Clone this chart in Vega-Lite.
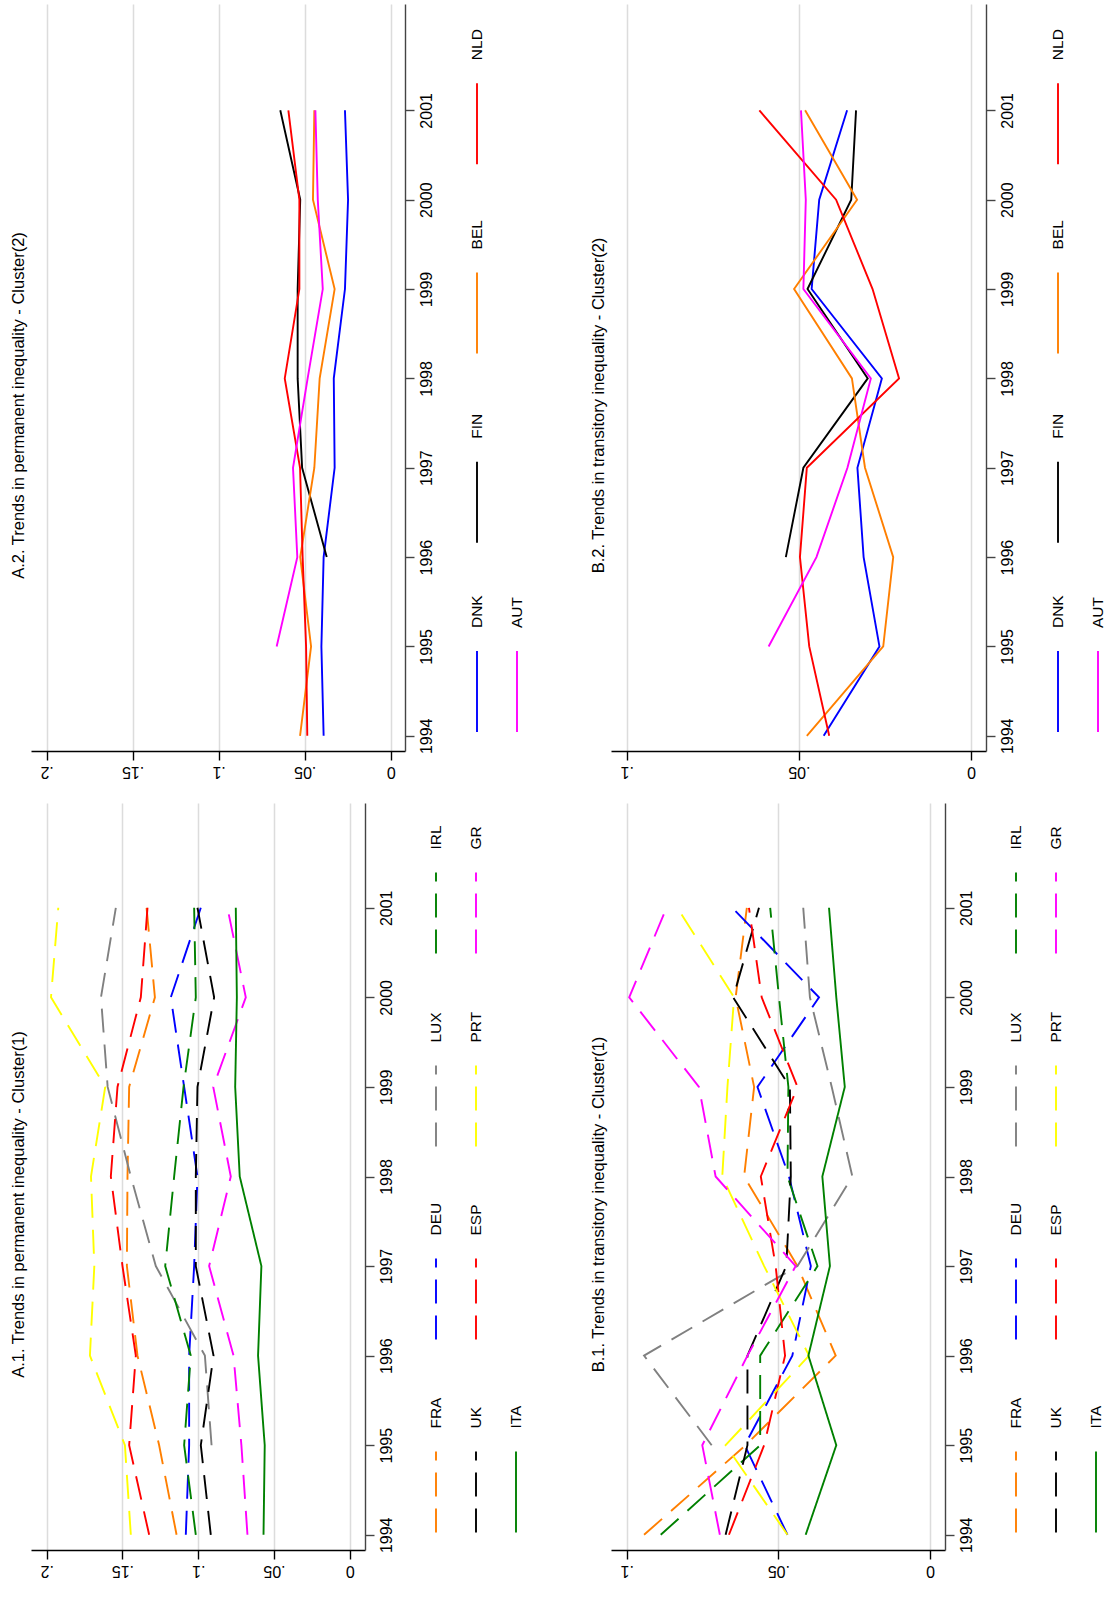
{
  "$schema": "https://vega.github.io/schema/vega-lite/v6.json",
  "background": "white",
  "padding": {"left": 10, "top": 4, "right": 0, "bottom": 0},
  "config": {
    "view": {"stroke": null},
    "font": "Liberation Sans",
    "axis": {"labelFont": "Liberation Sans", "labelFontSize": 16, "labelColor": "black", "domainColor": "black", "tickColor": "black", "tickSize": 9, "domainWidth": 1.4, "tickWidth": 1.4, "gridColor": "#dcdcdc", "gridWidth": 1.5, "title": null, "labelFlush": false, "labelOverlap": false, "labelBound": false},
    "title": {"font": "Liberation Sans", "fontSize": 16.5, "fontWeight": "normal", "color": "black", "orient": "left", "anchor": "middle", "offset": 4, "dx": -28},
    "line": {"strokeWidth": 1.9},
    "rule": {"strokeWidth": 1.9},
    "text": {"font": "Liberation Sans", "fontSize": 15.5, "color": "black"}
  },
  "datasets": {
    "L2": [{"country": "NLD"}, {"country": "BEL"}, {"country": "FIN"}, {"country": "DNK"}, {"country": "AUT"}],
    "L1": [{"country": "IRL"}, {"country": "LUX"}, {"country": "DEU"}, {"country": "FRA"}, {"country": "GR"}, {"country": "PRT"}, {"country": "ESP"}, {"country": "UK"}, {"country": "ITA"}],
    "A2": [
      {"country": "DNK", "year": 1994, "value": 0.039}, {"country": "DNK", "year": 1995, "value": 0.0403}, {"country": "DNK", "year": 1996, "value": 0.039}, {"country": "DNK", "year": 1997, "value": 0.0326}, {"country": "DNK", "year": 1998, "value": 0.0331}, {"country": "DNK", "year": 1999, "value": 0.0266}, {"country": "DNK", "year": 2000, "value": 0.0248}, {"country": "DNK", "year": 2001, "value": 0.0266},
      {"country": "FIN", "year": 1996, "value": 0.0372}, {"country": "FIN", "year": 1997, "value": 0.0515}, {"country": "FIN", "year": 1998, "value": 0.0541}, {"country": "FIN", "year": 1999, "value": 0.0541}, {"country": "FIN", "year": 2000, "value": 0.0526}, {"country": "FIN", "year": 2001, "value": 0.0642},
      {"country": "BEL", "year": 1994, "value": 0.0527}, {"country": "BEL", "year": 1995, "value": 0.0463}, {"country": "BEL", "year": 1996, "value": 0.0526}, {"country": "BEL", "year": 1997, "value": 0.0444}, {"country": "BEL", "year": 1998, "value": 0.0413}, {"country": "BEL", "year": 1999, "value": 0.0326}, {"country": "BEL", "year": 2000, "value": 0.0452}, {"country": "BEL", "year": 2001, "value": 0.0444},
      {"country": "NLD", "year": 1994, "value": 0.0485}, {"country": "NLD", "year": 1995, "value": 0.0492}, {"country": "NLD", "year": 1996, "value": 0.0512}, {"country": "NLD", "year": 1997, "value": 0.0527}, {"country": "NLD", "year": 1998, "value": 0.0616}, {"country": "NLD", "year": 1999, "value": 0.0531}, {"country": "NLD", "year": 2000, "value": 0.0531}, {"country": "NLD", "year": 2001, "value": 0.0595},
      {"country": "AUT", "year": 1995, "value": 0.0663}, {"country": "AUT", "year": 1996, "value": 0.0543}, {"country": "AUT", "year": 1997, "value": 0.0568}, {"country": "AUT", "year": 1998, "value": 0.0483}, {"country": "AUT", "year": 1999, "value": 0.0395}, {"country": "AUT", "year": 2000, "value": 0.0424}, {"country": "AUT", "year": 2001, "value": 0.0438}
    ],
    "B2": [
      {"country": "DNK", "year": 1994, "value": 0.0428}, {"country": "DNK", "year": 1995, "value": 0.0266}, {"country": "DNK", "year": 1996, "value": 0.0312}, {"country": "DNK", "year": 1997, "value": 0.033}, {"country": "DNK", "year": 1998, "value": 0.0259}, {"country": "DNK", "year": 1999, "value": 0.0463}, {"country": "DNK", "year": 2000, "value": 0.0441}, {"country": "DNK", "year": 2001, "value": 0.036},
      {"country": "FIN", "year": 1996, "value": 0.0538}, {"country": "FIN", "year": 1997, "value": 0.0487}, {"country": "FIN", "year": 1998, "value": 0.03}, {"country": "FIN", "year": 1999, "value": 0.0475}, {"country": "FIN", "year": 2000, "value": 0.0348}, {"country": "FIN", "year": 2001, "value": 0.0334},
      {"country": "BEL", "year": 1994, "value": 0.0477}, {"country": "BEL", "year": 1995, "value": 0.0255}, {"country": "BEL", "year": 1996, "value": 0.0226}, {"country": "BEL", "year": 1997, "value": 0.0308}, {"country": "BEL", "year": 1998, "value": 0.0346}, {"country": "BEL", "year": 1999, "value": 0.0514}, {"country": "BEL", "year": 2000, "value": 0.0331}, {"country": "BEL", "year": 2001, "value": 0.0482},
      {"country": "NLD", "year": 1994, "value": 0.0412}, {"country": "NLD", "year": 1995, "value": 0.047}, {"country": "NLD", "year": 1996, "value": 0.0497}, {"country": "NLD", "year": 1997, "value": 0.0477}, {"country": "NLD", "year": 1998, "value": 0.0209}, {"country": "NLD", "year": 1999, "value": 0.0286}, {"country": "NLD", "year": 2000, "value": 0.0392}, {"country": "NLD", "year": 2001, "value": 0.0615},
      {"country": "AUT", "year": 1995, "value": 0.0588}, {"country": "AUT", "year": 1996, "value": 0.0449}, {"country": "AUT", "year": 1997, "value": 0.0359}, {"country": "AUT", "year": 1998, "value": 0.0291}, {"country": "AUT", "year": 1999, "value": 0.0487}, {"country": "AUT", "year": 2000, "value": 0.048}, {"country": "AUT", "year": 2001, "value": 0.0494}
    ],
    "A1": [
      {"country": "FRA", "year": 1994, "value": 0.1143}, {"country": "FRA", "year": 1995, "value": 0.1258}, {"country": "FRA", "year": 1996, "value": 0.1401}, {"country": "FRA", "year": 1997, "value": 0.1471}, {"country": "FRA", "year": 1998, "value": 0.1467}, {"country": "FRA", "year": 1999, "value": 0.1456}, {"country": "FRA", "year": 2000, "value": 0.1286}, {"country": "FRA", "year": 2001, "value": 0.1341},
      {"country": "DEU", "year": 1994, "value": 0.1082}, {"country": "DEU", "year": 1995, "value": 0.106}, {"country": "DEU", "year": 1996, "value": 0.106}, {"country": "DEU", "year": 1997, "value": 0.1027}, {"country": "DEU", "year": 1998, "value": 0.1005}, {"country": "DEU", "year": 1999, "value": 0.1093}, {"country": "DEU", "year": 2000, "value": 0.1181}, {"country": "DEU", "year": 2001, "value": 0.0983},
      {"country": "LUX", "year": 1995, "value": 0.0912}, {"country": "LUX", "year": 1996, "value": 0.0956}, {"country": "LUX", "year": 1997, "value": 0.128}, {"country": "LUX", "year": 1998, "value": 0.1445}, {"country": "LUX", "year": 1999, "value": 0.1598}, {"country": "LUX", "year": 2000, "value": 0.1642}, {"country": "LUX", "year": 2001, "value": 0.1544},
      {"country": "IRL", "year": 1994, "value": 0.1016}, {"country": "IRL", "year": 1995, "value": 0.1093}, {"country": "IRL", "year": 1996, "value": 0.1049}, {"country": "IRL", "year": 1997, "value": 0.1218}, {"country": "IRL", "year": 1998, "value": 0.1159}, {"country": "IRL", "year": 1999, "value": 0.1097}, {"country": "IRL", "year": 2000, "value": 0.1016}, {"country": "IRL", "year": 2001, "value": 0.1027},
      {"country": "UK", "year": 1994, "value": 0.0917}, {"country": "UK", "year": 1995, "value": 0.0983}, {"country": "UK", "year": 1996, "value": 0.0899}, {"country": "UK", "year": 1997, "value": 0.1016}, {"country": "UK", "year": 1998, "value": 0.1016}, {"country": "UK", "year": 1999, "value": 0.1005}, {"country": "UK", "year": 2000, "value": 0.0895}, {"country": "UK", "year": 2001, "value": 0.1005},
      {"country": "ESP", "year": 1994, "value": 0.1324}, {"country": "ESP", "year": 1995, "value": 0.1456}, {"country": "ESP", "year": 1996, "value": 0.1412}, {"country": "ESP", "year": 1997, "value": 0.15}, {"country": "ESP", "year": 1998, "value": 0.1577}, {"country": "ESP", "year": 1999, "value": 0.1533}, {"country": "ESP", "year": 2000, "value": 0.1379}, {"country": "ESP", "year": 2001, "value": 0.1335},
      {"country": "PRT", "year": 1994, "value": 0.1445}, {"country": "PRT", "year": 1995, "value": 0.1484}, {"country": "PRT", "year": 1996, "value": 0.1715}, {"country": "PRT", "year": 1997, "value": 0.1686}, {"country": "PRT", "year": 1998, "value": 0.1708}, {"country": "PRT", "year": 1999, "value": 0.1614}, {"country": "PRT", "year": 2000, "value": 0.1972}, {"country": "PRT", "year": 2001, "value": 0.1924},
      {"country": "GR", "year": 1994, "value": 0.0675}, {"country": "GR", "year": 1995, "value": 0.0715}, {"country": "GR", "year": 1996, "value": 0.0767}, {"country": "GR", "year": 1997, "value": 0.0928}, {"country": "GR", "year": 1998, "value": 0.0785}, {"country": "GR", "year": 1999, "value": 0.0901}, {"country": "GR", "year": 2000, "value": 0.0686}, {"country": "GR", "year": 2001, "value": 0.0807},
      {"country": "ITA", "year": 1994, "value": 0.0569}, {"country": "ITA", "year": 1995, "value": 0.0561}, {"country": "ITA", "year": 1996, "value": 0.0605}, {"country": "ITA", "year": 1997, "value": 0.0583}, {"country": "ITA", "year": 1998, "value": 0.0726}, {"country": "ITA", "year": 1999, "value": 0.0756}, {"country": "ITA", "year": 2000, "value": 0.0745}, {"country": "ITA", "year": 2001, "value": 0.0752}
    ],
    "B1": [
      {"country": "FRA", "year": 1994, "value": 0.0943}, {"country": "FRA", "year": 1995, "value": 0.0608}, {"country": "FRA", "year": 1996, "value": 0.0311}, {"country": "FRA", "year": 1997, "value": 0.0437}, {"country": "FRA", "year": 1998, "value": 0.0613}, {"country": "FRA", "year": 1999, "value": 0.058}, {"country": "FRA", "year": 2000, "value": 0.0641}, {"country": "FRA", "year": 2001, "value": 0.0604},
      {"country": "DEU", "year": 1994, "value": 0.047}, {"country": "DEU", "year": 1995, "value": 0.0611}, {"country": "DEU", "year": 1996, "value": 0.0454}, {"country": "DEU", "year": 1997, "value": 0.0393}, {"country": "DEU", "year": 1998, "value": 0.0465}, {"country": "DEU", "year": 1999, "value": 0.0569}, {"country": "DEU", "year": 2000, "value": 0.0366}, {"country": "DEU", "year": 2001, "value": 0.0652},
      {"country": "LUX", "year": 1995, "value": 0.072}, {"country": "LUX", "year": 1996, "value": 0.0943}, {"country": "LUX", "year": 1997, "value": 0.0437}, {"country": "LUX", "year": 1998, "value": 0.0256}, {"country": "LUX", "year": 1999, "value": 0.0324}, {"country": "LUX", "year": 2000, "value": 0.0396}, {"country": "LUX", "year": 2001, "value": 0.0418},
      {"country": "IRL", "year": 1994, "value": 0.0888}, {"country": "IRL", "year": 1995, "value": 0.056}, {"country": "IRL", "year": 1996, "value": 0.056}, {"country": "IRL", "year": 1997, "value": 0.0371}, {"country": "IRL", "year": 1998, "value": 0.047}, {"country": "IRL", "year": 1999, "value": 0.0467}, {"country": "IRL", "year": 2000, "value": 0.0498}, {"country": "IRL", "year": 2001, "value": 0.0527},
      {"country": "UK", "year": 1994, "value": 0.0674}, {"country": "UK", "year": 1995, "value": 0.0602}, {"country": "UK", "year": 1996, "value": 0.0602}, {"country": "UK", "year": 1997, "value": 0.0474}, {"country": "UK", "year": 1998, "value": 0.0459}, {"country": "UK", "year": 1999, "value": 0.0462}, {"country": "UK", "year": 2000, "value": 0.0649}, {"country": "UK", "year": 2001, "value": 0.0564},
      {"country": "ESP", "year": 1994, "value": 0.0663}, {"country": "ESP", "year": 1995, "value": 0.0547}, {"country": "ESP", "year": 1996, "value": 0.0478}, {"country": "ESP", "year": 1997, "value": 0.0509}, {"country": "ESP", "year": 1998, "value": 0.0558}, {"country": "ESP", "year": 1999, "value": 0.0437}, {"country": "ESP", "year": 2000, "value": 0.0555}, {"country": "ESP", "year": 2001, "value": 0.0597},
      {"country": "PRT", "year": 1994, "value": 0.047}, {"country": "PRT", "year": 1995, "value": 0.0674}, {"country": "PRT", "year": 1996, "value": 0.0399}, {"country": "PRT", "year": 1997, "value": 0.0547}, {"country": "PRT", "year": 1998, "value": 0.0685}, {"country": "PRT", "year": 1999, "value": 0.0668}, {"country": "PRT", "year": 2000, "value": 0.0646}, {"country": "PRT", "year": 2001, "value": 0.0833},
      {"country": "GR", "year": 1994, "value": 0.0693}, {"country": "GR", "year": 1995, "value": 0.0751}, {"country": "GR", "year": 1996, "value": 0.0602}, {"country": "GR", "year": 1997, "value": 0.0443}, {"country": "GR", "year": 1998, "value": 0.0707}, {"country": "GR", "year": 1999, "value": 0.0762}, {"country": "GR", "year": 2000, "value": 0.0992}, {"country": "GR", "year": 2001, "value": 0.0869},
      {"country": "ITA", "year": 1994, "value": 0.041}, {"country": "ITA", "year": 1995, "value": 0.0309}, {"country": "ITA", "year": 1996, "value": 0.0401}, {"country": "ITA", "year": 1997, "value": 0.033}, {"country": "ITA", "year": 1998, "value": 0.0355}, {"country": "ITA", "year": 1999, "value": 0.0281}, {"country": "ITA", "year": 2000, "value": 0.0309}, {"country": "ITA", "year": 2001, "value": 0.0333}
    ]
  },
  "resolve": {"scale": {"x": "independent", "y": "independent", "color": "independent", "strokeDash": "independent"}},
  "spacing": 24,
  "vconcat": [
    {
      "resolve": {"scale": {"x": "independent", "y": "independent", "color": "independent", "strokeDash": "independent"}},
      "spacing": 64,
      "hconcat": [
        {
          "resolve": {"scale": {"x": "independent", "y": "independent", "color": "independent", "strokeDash": "independent"}},
          "spacing": 35,
          "hconcat": [
            {
              "title": {"text": "A.2. Trends in permanent inequality - Cluster(2)"},
              "width": 374, "height": 747,
              "data": {"name": "A2"},
              "mark": {"type": "line"},
              "encoding": {
                "x": {"field": "value", "type": "quantitative", "scale": {"domain": [-0.0083, 0.2091], "reverse": true, "nice": false, "zero": false}, "axis": {"orient": "bottom", "values": [0, 0.05, 0.1, 0.15, 0.2], "labelExpr": "datum.value == 0 ? '0' : replace(format(datum.value, '.2~f'), '0.', '.')", "labelAngle": 180, "labelAlign": "center", "labelBaseline": "bottom", "labelPadding": 3, "grid": true}},
                "y": {"field": "year", "type": "quantitative", "scale": {"domain": [1993.83, 2002.19], "nice": false, "zero": false}, "axis": {"orient": "right", "values": [1994, 1995, 1996, 1997, 1998, 1999, 2000, 2001], "format": "d", "labelAngle": 270, "labelAlign": "center", "labelBaseline": "top", "labelPadding": 4, "grid": false, "domainColor": "#444", "tickColor": "#444"}},
                "order": {"field": "year", "type": "quantitative"},
                "color": {"field": "country", "type": "nominal", "scale": {"domain": ["NLD", "BEL", "FIN", "DNK", "AUT"], "range": ["#ff0000", "#ff7f00", "#000000", "#0000ff", "#ff00ff"]}, "legend": null}
              }
            },
            {
              "resolve": {"scale": {"x": "independent", "y": "independent", "color": "independent", "strokeDash": "independent"}},
              "spacing": 23,
              "hconcat": [
                {
                  "width": 16, "height": 747,
                  "data": {"name": "L2"},
                  "transform": [{"filter": {"field": "country", "oneOf": ["NLD", "BEL", "FIN", "DNK"]}}],
                  "encoding": {"y": {"field": "country", "type": "nominal", "scale": {"type": "point", "domain": ["NLD", "BEL", "FIN", "DNK"], "padding": 0.473, "align": 0.668}, "axis": null}},
                  "layer": [
                    {"mark": {"type": "rule", "yOffset": 40.5, "y2Offset": -40.5}, "encoding": {"y2": {"field": "country"}, "color": {"field": "country", "type": "nominal", "scale": {"domain": ["NLD", "BEL", "FIN", "DNK"], "range": ["#ff0000", "#ff7f00", "#000000", "#0000ff"]}, "legend": null}}},
                    {"mark": {"type": "text", "angle": 270, "align": "left", "baseline": "middle", "yOffset": -63.5}, "encoding": {"text": {"field": "country"}}}
                  ]
                },
                {
                  "width": 16, "height": 747,
                  "data": {"name": "L2"},
                  "transform": [{"filter": {"field": "country", "oneOf": ["AUT"]}}],
                  "encoding": {"y": {"field": "country", "type": "nominal", "scale": {"type": "point", "domain": [" ", "  ", "   ", "AUT"], "padding": 0.473, "align": 0.668}, "axis": null}},
                  "layer": [
                    {"mark": {"type": "rule", "yOffset": 40.5, "y2Offset": -40.5}, "encoding": {"y2": {"field": "country"}, "color": {"field": "country", "type": "nominal", "scale": {"domain": ["AUT"], "range": ["#ff00ff"]}, "legend": null}}},
                    {"mark": {"type": "text", "angle": 270, "align": "left", "baseline": "middle", "yOffset": -63.5}, "encoding": {"text": {"field": "country"}}}
                  ]
                }
              ]
            }
          ]
        },
        {
          "resolve": {"scale": {"x": "independent", "y": "independent", "color": "independent", "strokeDash": "independent"}},
          "spacing": 35,
          "hconcat": [
            {
              "title": {"text": "B.2. Trends in transitory inequality - Cluster(2)"},
              "width": 375, "height": 747,
              "data": {"name": "B2"},
              "mark": {"type": "line"},
              "encoding": {
                "x": {"field": "value", "type": "quantitative", "scale": {"domain": [-0.00436, 0.1046], "reverse": true, "nice": false, "zero": false}, "axis": {"orient": "bottom", "values": [0, 0.05, 0.1], "labelExpr": "datum.value == 0 ? '0' : replace(format(datum.value, '.2~f'), '0.', '.')", "labelAngle": 180, "labelAlign": "center", "labelBaseline": "bottom", "labelPadding": 3, "grid": true}},
                "y": {"field": "year", "type": "quantitative", "scale": {"domain": [1993.83, 2002.19], "nice": false, "zero": false}, "axis": {"orient": "right", "values": [1994, 1995, 1996, 1997, 1998, 1999, 2000, 2001], "format": "d", "labelAngle": 270, "labelAlign": "center", "labelBaseline": "top", "labelPadding": 4, "grid": false, "domainColor": "#444", "tickColor": "#444"}},
                "order": {"field": "year", "type": "quantitative"},
                "color": {"field": "country", "type": "nominal", "scale": {"domain": ["NLD", "BEL", "FIN", "DNK", "AUT"], "range": ["#ff0000", "#ff7f00", "#000000", "#0000ff", "#ff00ff"]}, "legend": null}
              }
            },
            {
              "resolve": {"scale": {"x": "independent", "y": "independent", "color": "independent", "strokeDash": "independent"}},
              "spacing": 23,
              "hconcat": [
                {
                  "width": 16, "height": 747,
                  "data": {"name": "L2"},
                  "transform": [{"filter": {"field": "country", "oneOf": ["NLD", "BEL", "FIN", "DNK"]}}],
                  "encoding": {"y": {"field": "country", "type": "nominal", "scale": {"type": "point", "domain": ["NLD", "BEL", "FIN", "DNK"], "padding": 0.473, "align": 0.668}, "axis": null}},
                  "layer": [
                    {"mark": {"type": "rule", "yOffset": 40.5, "y2Offset": -40.5}, "encoding": {"y2": {"field": "country"}, "color": {"field": "country", "type": "nominal", "scale": {"domain": ["NLD", "BEL", "FIN", "DNK"], "range": ["#ff0000", "#ff7f00", "#000000", "#0000ff"]}, "legend": null}}},
                    {"mark": {"type": "text", "angle": 270, "align": "left", "baseline": "middle", "yOffset": -63.5}, "encoding": {"text": {"field": "country"}}}
                  ]
                },
                {
                  "width": 16, "height": 747,
                  "data": {"name": "L2"},
                  "transform": [{"filter": {"field": "country", "oneOf": ["AUT"]}}],
                  "encoding": {"y": {"field": "country", "type": "nominal", "scale": {"type": "point", "domain": [" ", "  ", "   ", "AUT"], "padding": 0.473, "align": 0.668}, "axis": null}},
                  "layer": [
                    {"mark": {"type": "rule", "yOffset": 40.5, "y2Offset": -40.5}, "encoding": {"y2": {"field": "country"}, "color": {"field": "country", "type": "nominal", "scale": {"domain": ["AUT"], "range": ["#ff00ff"]}, "legend": null}}},
                    {"mark": {"type": "text", "angle": 270, "align": "left", "baseline": "middle", "yOffset": -63.5}, "encoding": {"text": {"field": "country"}}}
                  ]
                }
              ]
            }
          ]
        }
      ]
    },
    {
      "resolve": {"scale": {"x": "independent", "y": "independent", "color": "independent", "strokeDash": "independent"}},
      "spacing": 65,
      "hconcat": [
        {
          "resolve": {"scale": {"x": "independent", "y": "independent", "color": "independent", "strokeDash": "independent"}},
          "spacing": 34,
          "hconcat": [
            {
              "title": {"text": "A.1. Trends in permanent inequality - Cluster(1)"},
              "width": 334, "height": 747,
              "data": {"name": "A1"},
              "mark": {"type": "line"},
              "encoding": {
                "x": {"field": "value", "type": "quantitative", "scale": {"domain": [-0.0101, 0.2104], "reverse": true, "nice": false, "zero": false}, "axis": {"orient": "bottom", "values": [0, 0.05, 0.1, 0.15, 0.2], "labelExpr": "datum.value == 0 ? '0' : replace(format(datum.value, '.2~f'), '0.', '.')", "labelAngle": 180, "labelAlign": "center", "labelBaseline": "bottom", "labelPadding": 3, "grid": true}},
                "y": {"field": "year", "type": "quantitative", "scale": {"domain": [1993.83, 2002.17], "nice": false, "zero": false}, "axis": {"orient": "right", "values": [1994, 1995, 1996, 1997, 1998, 1999, 2000, 2001], "format": "d", "labelAngle": 270, "labelAlign": "center", "labelBaseline": "top", "labelPadding": 4, "grid": false, "domainColor": "#444", "tickColor": "#444"}},
                "order": {"field": "year", "type": "quantitative"},
                "color": {"field": "country", "type": "nominal", "scale": {"domain": ["IRL", "LUX", "DEU", "FRA", "GR", "PRT", "ESP", "UK", "ITA"], "range": ["#008000", "#808080", "#0000ff", "#ff7f00", "#ff00ff", "#ffff00", "#ff0000", "#000000", "#008000"]}, "legend": null},
                "strokeDash": {"field": "country", "type": "nominal", "scale": {"domain": ["IRL", "LUX", "DEU", "FRA", "GR", "PRT", "ESP", "UK", "ITA"], "range": [[24, 12], [24, 12], [24, 12], [24, 12], [24, 12], [24, 12], [24, 12], [24, 12], [1, 0]]}, "legend": null}
              }
            },
            {
              "resolve": {"scale": {"x": "independent", "y": "independent", "color": "independent", "strokeDash": "independent"}},
              "spacing": 23,
              "hconcat": [
                {
                  "width": 16, "height": 747,
                  "data": {"name": "L1"},
                  "transform": [{"filter": {"field": "country", "oneOf": ["IRL", "LUX", "DEU", "FRA"]}}],
                  "encoding": {"y": {"field": "country", "type": "nominal", "scale": {"type": "point", "domain": ["IRL", "LUX", "DEU", "FRA"], "padding": 0.435, "align": 0.655}, "axis": null}},
                  "layer": [
                    {"mark": {"type": "rule", "yOffset": 40.5, "y2Offset": -40.5}, "encoding": {"y2": {"field": "country"}, "color": {"field": "country", "type": "nominal", "scale": {"domain": ["IRL", "LUX", "DEU", "FRA"], "range": ["#008000", "#808080", "#0000ff", "#ff7f00"]}, "legend": null}, "strokeDash": {"field": "country", "type": "nominal", "scale": {"domain": ["IRL", "LUX", "DEU", "FRA"], "range": [[24, 12], [24, 12], [24, 12], [24, 12]]}, "legend": null}}},
                    {"mark": {"type": "text", "angle": 270, "align": "left", "baseline": "middle", "yOffset": -63.5}, "encoding": {"text": {"field": "country"}}}
                  ]
                },
                {
                  "width": 16, "height": 747,
                  "data": {"name": "L1"},
                  "transform": [{"filter": {"field": "country", "oneOf": ["GR", "PRT", "ESP", "UK"]}}],
                  "encoding": {"y": {"field": "country", "type": "nominal", "scale": {"type": "point", "domain": ["GR", "PRT", "ESP", "UK"], "padding": 0.435, "align": 0.655}, "axis": null}},
                  "layer": [
                    {"mark": {"type": "rule", "yOffset": 40.5, "y2Offset": -40.5}, "encoding": {"y2": {"field": "country"}, "color": {"field": "country", "type": "nominal", "scale": {"domain": ["GR", "PRT", "ESP", "UK"], "range": ["#ff00ff", "#ffff00", "#ff0000", "#000000"]}, "legend": null}, "strokeDash": {"field": "country", "type": "nominal", "scale": {"domain": ["GR", "PRT", "ESP", "UK"], "range": [[24, 12], [24, 12], [24, 12], [24, 12]]}, "legend": null}}},
                    {"mark": {"type": "text", "angle": 270, "align": "left", "baseline": "middle", "yOffset": -63.5}, "encoding": {"text": {"field": "country"}}}
                  ]
                },
                {
                  "width": 16, "height": 747,
                  "data": {"name": "L1"},
                  "transform": [{"filter": {"field": "country", "oneOf": ["ITA"]}}],
                  "encoding": {"y": {"field": "country", "type": "nominal", "scale": {"type": "point", "domain": [" ", "  ", "   ", "ITA"], "padding": 0.435, "align": 0.655}, "axis": null}},
                  "layer": [
                    {"mark": {"type": "rule", "yOffset": 40.5, "y2Offset": -40.5}, "encoding": {"y2": {"field": "country"}, "color": {"field": "country", "type": "nominal", "scale": {"domain": ["ITA"], "range": ["#008000"]}, "legend": null}}},
                    {"mark": {"type": "text", "angle": 270, "align": "left", "baseline": "middle", "yOffset": -63.5}, "encoding": {"text": {"field": "country"}}}
                  ]
                }
              ]
            }
          ]
        },
        {
          "resolve": {"scale": {"x": "independent", "y": "independent", "color": "independent", "strokeDash": "independent"}},
          "spacing": 34,
          "hconcat": [
            {
              "title": {"text": "B.1. Trends in transitory inequality - Cluster(1)"},
              "width": 334, "height": 747,
              "data": {"name": "B1"},
              "mark": {"type": "line"},
              "encoding": {
                "x": {"field": "value", "type": "quantitative", "scale": {"domain": [-0.00495, 0.1052], "reverse": true, "nice": false, "zero": false}, "axis": {"orient": "bottom", "values": [0, 0.05, 0.1], "labelExpr": "datum.value == 0 ? '0' : replace(format(datum.value, '.2~f'), '0.', '.')", "labelAngle": 180, "labelAlign": "center", "labelBaseline": "bottom", "labelPadding": 3, "grid": true}},
                "y": {"field": "year", "type": "quantitative", "scale": {"domain": [1993.83, 2002.17], "nice": false, "zero": false}, "axis": {"orient": "right", "values": [1994, 1995, 1996, 1997, 1998, 1999, 2000, 2001], "format": "d", "labelAngle": 270, "labelAlign": "center", "labelBaseline": "top", "labelPadding": 4, "grid": false, "domainColor": "#444", "tickColor": "#444"}},
                "order": {"field": "year", "type": "quantitative"},
                "color": {"field": "country", "type": "nominal", "scale": {"domain": ["IRL", "LUX", "DEU", "FRA", "GR", "PRT", "ESP", "UK", "ITA"], "range": ["#008000", "#808080", "#0000ff", "#ff7f00", "#ff00ff", "#ffff00", "#ff0000", "#000000", "#008000"]}, "legend": null},
                "strokeDash": {"field": "country", "type": "nominal", "scale": {"domain": ["IRL", "LUX", "DEU", "FRA", "GR", "PRT", "ESP", "UK", "ITA"], "range": [[24, 12], [24, 12], [24, 12], [24, 12], [24, 12], [24, 12], [24, 12], [24, 12], [1, 0]]}, "legend": null}
              }
            },
            {
              "resolve": {"scale": {"x": "independent", "y": "independent", "color": "independent", "strokeDash": "independent"}},
              "spacing": 23,
              "hconcat": [
                {
                  "width": 16, "height": 747,
                  "data": {"name": "L1"},
                  "transform": [{"filter": {"field": "country", "oneOf": ["IRL", "LUX", "DEU", "FRA"]}}],
                  "encoding": {"y": {"field": "country", "type": "nominal", "scale": {"type": "point", "domain": ["IRL", "LUX", "DEU", "FRA"], "padding": 0.435, "align": 0.655}, "axis": null}},
                  "layer": [
                    {"mark": {"type": "rule", "yOffset": 40.5, "y2Offset": -40.5}, "encoding": {"y2": {"field": "country"}, "color": {"field": "country", "type": "nominal", "scale": {"domain": ["IRL", "LUX", "DEU", "FRA"], "range": ["#008000", "#808080", "#0000ff", "#ff7f00"]}, "legend": null}, "strokeDash": {"field": "country", "type": "nominal", "scale": {"domain": ["IRL", "LUX", "DEU", "FRA"], "range": [[24, 12], [24, 12], [24, 12], [24, 12]]}, "legend": null}}},
                    {"mark": {"type": "text", "angle": 270, "align": "left", "baseline": "middle", "yOffset": -63.5}, "encoding": {"text": {"field": "country"}}}
                  ]
                },
                {
                  "width": 16, "height": 747,
                  "data": {"name": "L1"},
                  "transform": [{"filter": {"field": "country", "oneOf": ["GR", "PRT", "ESP", "UK"]}}],
                  "encoding": {"y": {"field": "country", "type": "nominal", "scale": {"type": "point", "domain": ["GR", "PRT", "ESP", "UK"], "padding": 0.435, "align": 0.655}, "axis": null}},
                  "layer": [
                    {"mark": {"type": "rule", "yOffset": 40.5, "y2Offset": -40.5}, "encoding": {"y2": {"field": "country"}, "color": {"field": "country", "type": "nominal", "scale": {"domain": ["GR", "PRT", "ESP", "UK"], "range": ["#ff00ff", "#ffff00", "#ff0000", "#000000"]}, "legend": null}, "strokeDash": {"field": "country", "type": "nominal", "scale": {"domain": ["GR", "PRT", "ESP", "UK"], "range": [[24, 12], [24, 12], [24, 12], [24, 12]]}, "legend": null}}},
                    {"mark": {"type": "text", "angle": 270, "align": "left", "baseline": "middle", "yOffset": -63.5}, "encoding": {"text": {"field": "country"}}}
                  ]
                },
                {
                  "width": 16, "height": 747,
                  "data": {"name": "L1"},
                  "transform": [{"filter": {"field": "country", "oneOf": ["ITA"]}}],
                  "encoding": {"y": {"field": "country", "type": "nominal", "scale": {"type": "point", "domain": [" ", "  ", "   ", "ITA"], "padding": 0.435, "align": 0.655}, "axis": null}},
                  "layer": [
                    {"mark": {"type": "rule", "yOffset": 40.5, "y2Offset": -40.5}, "encoding": {"y2": {"field": "country"}, "color": {"field": "country", "type": "nominal", "scale": {"domain": ["ITA"], "range": ["#008000"]}, "legend": null}}},
                    {"mark": {"type": "text", "angle": 270, "align": "left", "baseline": "middle", "yOffset": -63.5}, "encoding": {"text": {"field": "country"}}}
                  ]
                }
              ]
            }
          ]
        }
      ]
    }
  ]
}
